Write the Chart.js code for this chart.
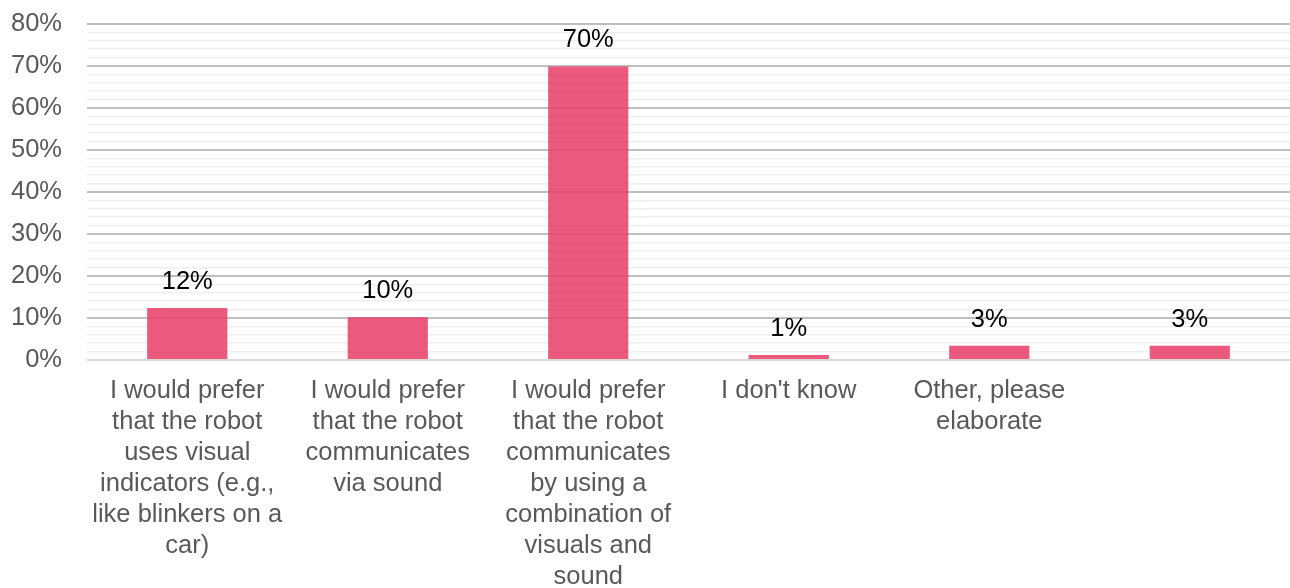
<!DOCTYPE html>
<html>
<head>
<meta charset="utf-8">
<script src="https://cdn.jsdelivr.net/npm/chart.js@4"></script>
<style>
  html, body { margin: 0; padding: 0; background: #fff; }
  canvas { display: block; }
</style>
</head>
<body>
<canvas id="pref-chart" width="1290" height="588"></canvas>
<script>
Chart.defaults.font.family = '"Liberation Sans", Arial, sans-serif';
Chart.defaults.font.size = 25.5;

var categories = [
	["I would prefer", "that the robot", "uses visual", "indicators (e.g.,", "like blinkers on a", "car)"],
	["I would prefer", "that the robot", "communicates", "via sound"],
	["I would prefer", "that the robot", "communicates", "by using a", "combination of", "visuals and", "sound"],
	["I don't know"],
	["Other, please", "elaborate"],
	""
];
var shares = [12.4, 10.2, 69.9, 1.2, 3.4, 3.4];
var yTicks = [0, 10, 20, 30, 40, 50, 60, 70, 80];

// percent labels above the bars
var valueLabels = {
	id: 'valueLabels',
	afterDatasetsDraw: function(chart) {
		var ctx = chart.ctx;
		var meta = chart.getDatasetMeta(0);
		ctx.save();
		ctx.fillStyle = '#000';
		ctx.font = '25.5px "Liberation Sans", Arial, sans-serif';
		ctx.textAlign = 'center';
		ctx.textBaseline = 'middle';
		meta.data.forEach(function(bar, i) {
			ctx.fillText(Math.round(shares[i]) + '%', bar.x, bar.y - 26);
		});
		ctx.restore();
	}
};

const ctx = document.getElementById('pref-chart').getContext('2d');
const myChart = new Chart(ctx, {
	type: 'bar',
	data: {
		labels: categories,
		datasets: [
			{
				data: shares,
				backgroundColor: 'rgba(232, 60, 102, 0.85)',
				borderWidth: 0,
				barPercentage: 0.4,
				categoryPercentage: 1.0
			}
		]
	},
	options: {
		responsive: false,
		animation: false,
		layout: { padding: { top: 24, right: 0, left: 0, bottom: 0 } },
		plugins: {
			legend: { display: false },
			tooltip: { enabled: false }
		},
		scales: {
			x: {
				grid: { display: false, drawTicks: false },
				border: { display: false },
				ticks: {
					color: '#595959',
					padding: 15,
					maxRotation: 0,
					autoSkip: false,
					font: { size: 25.5, lineHeight: 1.22 }
				},
				afterFit: function(scale) { scale.height = 228; }
			},
			y: {
				min: 0,
				max: 80,
				border: { display: false },
				grid: {
					drawTicks: false,
					color: function(c) {
						var v = c.tick.value;
						if (v === 0) return '#d9d9d9';
						return yTicks.indexOf(v) >= 0 ? '#bfbfbf' : '#efefef';
					},
					lineWidth: function(c) {
						return yTicks.indexOf(c.tick.value) >= 0 ? 2 : 1.5;
					}
				},
				ticks: {
					stepSize: 2,
					autoSkip: false,
					color: '#595959',
					padding: 25,
					callback: function(v) {
						return yTicks.indexOf(v) >= 0 ? v + '%' : '';
					}
				},
				afterFit: function(scale) {
					scale.width = 87;
					scale.paddingTop = 0;
					scale.paddingBottom = 0;
				}
			}
		}
	},
	plugins: [valueLabels]
});
</script>
</body>
</html>
